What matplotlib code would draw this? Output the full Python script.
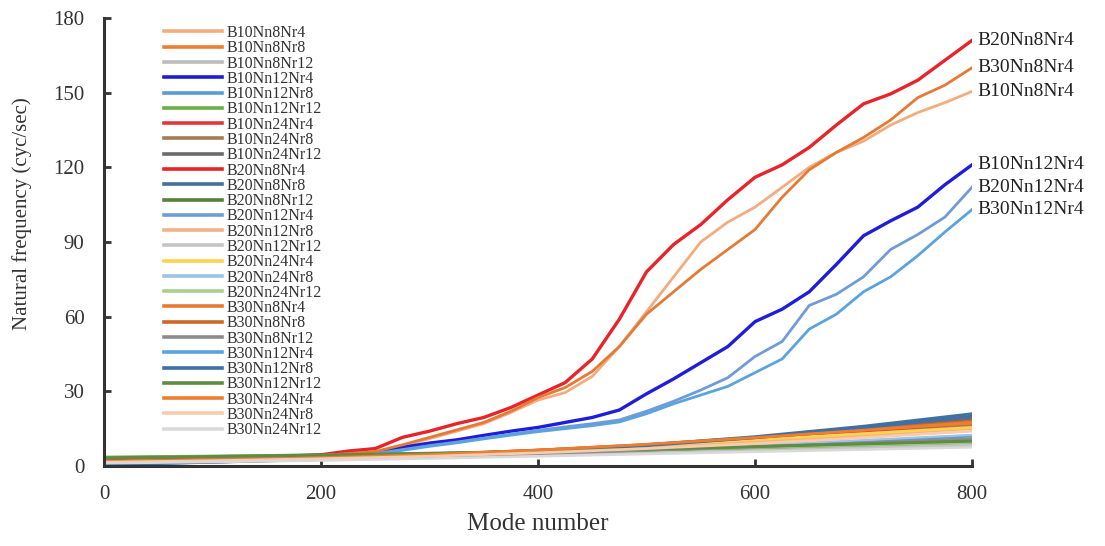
import matplotlib
matplotlib.use("Agg")
import matplotlib.pyplot as plt

plt.rcParams['font.family'] = ['Liberation Serif', 'DejaVu Serif']

# ---------------- data ----------------
modes_high = [0, 50, 100, 150, 200, 225, 250, 275, 300, 325, 350, 375, 400, 425,
              450, 475, 500, 525, 550, 575, 600, 625, 650, 675, 700, 725, 750, 775, 800]
modes_low = [0, 100, 200, 300, 400, 500, 600, 700, 800]

B20Nn8Nr4 = [2.0, 2.5, 3.0, 3.6, 4.5, 6.0, 7.0, 11.5, 14.0, 17.0, 19.5, 23.5, 28.5, 33.5,
             43, 59, 78, 89, 97, 107, 116, 121, 128, 137, 145.5, 149.5, 155, 163, 171]
B30Nn8Nr4 = [1.8, 2.3, 2.8, 3.4, 4.2, 5.0, 5.8, 8.5, 11.5, 14.5, 17.5, 22, 27.5, 31.5,
             38, 48, 61, 70, 79, 87, 95, 108, 119, 126, 132, 139, 148, 153, 160]
B10Nn8Nr4 = [1.6, 2.1, 2.6, 3.2, 4.0, 4.8, 5.5, 8.0, 11.0, 14.0, 17.0, 21.5, 26.5, 29.5,
             36, 48, 62, 76, 90, 98, 104, 112, 120, 126, 130.5, 137, 142, 146, 150.5]
B10Nn12Nr4 = [1.5, 2.0, 2.6, 3.3, 4.2, 4.8, 5.5, 7.5, 9.2, 10.5, 12.3, 14.0, 15.5, 17.5,
              19.5, 22.5, 29, 35, 41.5, 48, 58, 63, 70, 81, 92.5, 98.5, 104, 113, 121]
B20Nn12Nr4 = [1.3, 1.8, 2.4, 3.0, 3.8, 4.4, 5.0, 6.6, 8.2, 9.6, 11.2, 12.8, 14.3, 15.7,
              17.0, 18.5, 22, 26, 30.5, 35.5, 44, 50, 64.5, 69, 76, 87, 93, 100, 112]
B30Nn12Nr4 = [1.2, 1.7, 2.3, 2.9, 3.6, 4.2, 4.8, 6.3, 7.9, 9.3, 10.9, 12.4, 13.8, 15.0,
              16.2, 17.7, 21, 25, 28.5, 32, 37.5, 43, 55, 61, 70, 76, 84.5, 94, 103]

B10Nn8Nr8 = [1.5, 2.2, 3.0, 4.2, 6.0, 8.3, 11.0, 14.0, 17.0]
B10Nn8Nr12 = [1.2, 1.8, 2.5, 3.3, 4.2, 5.0, 6.0, 7.0, 8.0]
B10Nn12Nr8 = [1.0, 1.8, 2.6, 3.6, 4.8, 6.3, 8.0, 10.0, 12.0]
B10Nn12Nr12 = [3.6, 4.0, 4.5, 5.0, 5.6, 6.3, 7.1, 8.0, 9.0]
B10Nn24Nr4 = [1.8, 2.5, 3.4, 4.6, 6.4, 8.4, 10.8, 13.3, 16.0]
B10Nn24Nr8 = [1.5, 2.2, 3.0, 4.2, 5.8, 7.8, 10.2, 13.0, 16.0]
B10Nn24Nr12 = [1.0, 1.8, 2.8, 4.0, 5.8, 8.0, 11.0, 14.8, 19.0]
B20Nn8Nr8 = [0.5, 1.5, 2.6, 4.0, 5.9, 8.5, 11.8, 16.0, 21.0]
B20Nn8Nr12 = [3.2, 3.7, 4.3, 5.0, 5.8, 6.7, 7.7, 8.8, 10.0]
B20Nn12Nr8 = [1.5, 2.2, 3.0, 4.0, 5.5, 7.4, 9.7, 12.3, 15.0]
B20Nn12Nr12 = [1.2, 1.8, 2.5, 3.4, 4.4, 5.3, 6.3, 7.4, 8.5]
B20Nn24Nr4 = [1.8, 2.4, 3.2, 4.4, 6.1, 8.2, 10.6, 13.0, 15.5]
B20Nn24Nr8 = [1.0, 1.8, 2.6, 3.6, 5.0, 6.6, 8.4, 10.4, 12.5]
B20Nn24Nr12 = [3.4, 3.9, 4.4, 5.0, 5.7, 6.5, 7.4, 8.4, 9.5]
B30Nn8Nr8 = [1.6, 2.3, 3.2, 4.5, 6.3, 8.6, 11.4, 14.6, 18.0]
B30Nn8Nr12 = [1.2, 1.9, 2.8, 3.8, 5.0, 6.3, 7.7, 9.3, 11.0]
B30Nn12Nr8 = [0.6, 1.6, 2.7, 4.0, 5.8, 8.2, 11.4, 15.4, 20.0]
B30Nn12Nr12 = [3.3, 3.8, 4.4, 5.1, 5.9, 6.8, 7.8, 8.9, 10.0]
B30Nn24Nr4 = [1.7, 2.4, 3.3, 4.6, 6.4, 8.7, 11.4, 14.4, 17.5]
B30Nn24Nr8 = [1.5, 2.1, 2.9, 3.9, 5.3, 7.0, 9.0, 11.4, 14.0]
B30Nn24Nr12 = [1.1, 1.6, 2.2, 3.0, 3.9, 4.8, 5.7, 6.6, 7.5]

labels = ["B10Nn8Nr4", "B10Nn8Nr8", "B10Nn8Nr12", "B10Nn12Nr4", "B10Nn12Nr8", "B10Nn12Nr12",
          "B10Nn24Nr4", "B10Nn24Nr8", "B10Nn24Nr12", "B20Nn8Nr4", "B20Nn8Nr8", "B20Nn8Nr12",
          "B20Nn12Nr4", "B20Nn12Nr8", "B20Nn12Nr12", "B20Nn24Nr4", "B20Nn24Nr8", "B20Nn24Nr12",
          "B30Nn8Nr4", "B30Nn8Nr8", "B30Nn8Nr12", "B30Nn12Nr4", "B30Nn12Nr8", "B30Nn12Nr12",
          "B30Nn24Nr4", "B30Nn24Nr8", "B30Nn24Nr12"]
series = [B10Nn8Nr4, B10Nn8Nr8, B10Nn8Nr12, B10Nn12Nr4, B10Nn12Nr8, B10Nn12Nr12,
          B10Nn24Nr4, B10Nn24Nr8, B10Nn24Nr12, B20Nn8Nr4, B20Nn8Nr8, B20Nn8Nr12,
          B20Nn12Nr4, B20Nn12Nr8, B20Nn12Nr12, B20Nn24Nr4, B20Nn24Nr8, B20Nn24Nr12,
          B30Nn8Nr4, B30Nn8Nr8, B30Nn8Nr12, B30Nn12Nr4, B30Nn12Nr8, B30Nn12Nr12,
          B30Nn24Nr4, B30Nn24Nr8, B30Nn24Nr12]
end_labels = ["B20Nn8Nr4", "B30Nn8Nr4", "B10Nn8Nr4", "B10Nn12Nr4", "B20Nn12Nr4", "B30Nn12Nr4"]

# ---------------- style ----------------
colors = ["#F2AC80", "#ED7D31", "#BDBDBD", "#1E1ED8", "#5B9BD5", "#70AD47",
          "#E0383C", "#A67C52", "#6B6B6B", "#E8232A", "#41719C", "#548235",
          "#6F9BD8", "#F4B183", "#C4C4C4", "#FFD34D", "#9DC3E6", "#A9D18E",
          "#E57A35", "#C8692C", "#8C8C8C", "#5BA3DD", "#3D6FA8", "#5E8C44",
          "#ED7D31", "#F8CBAD", "#D9D9D9"]
widths = [2.0, 2.0, 1.4, 2.4, 2.0, 2.0, 2.0, 2.0, 2.0, 2.4, 2.0, 2.0,
          2.0, 2.0, 1.6, 2.0, 1.6, 1.6, 2.0, 2.2, 2.0, 2.0, 2.2, 2.2,
          2.0, 2.0, 1.8]

fig = plt.figure(figsize=(11.05, 5.46), dpi=100)
ax = fig.add_axes([104 / 1105, 80 / 546, 868 / 1105, 448 / 546])

for lab, vals, col, lw in zip(labels, series, colors, widths):
    xs = modes_high if len(vals) == len(modes_high) else modes_low
    ax.plot(xs, vals, color=col, lw=lw, label=lab, solid_joinstyle='round')

for lab in end_labels:
    vals = series[labels.index(lab)]
    ax.annotate(lab, xy=(modes_high[-1], vals[-1]), xytext=(4, 0),
                textcoords='offset points', va='center', ha='left',
                fontsize=14, color='#222222', annotation_clip=False)

ax.set_xlim(0, 800)
ax.set_ylim(0, 180)
ax.set_xticks([0, 200, 400, 600, 800])
ax.set_yticks([0, 30, 60, 90, 120, 150, 180])
for s in ['top', 'right']:
    ax.spines[s].set_visible(False)
for s in ['left', 'bottom']:
    ax.spines[s].set_color('#333333')
    ax.spines[s].set_linewidth(2.2)
ax.tick_params(direction='in', length=5, width=2, color='#333333',
               labelsize=15, labelcolor='#333333', pad=14)
ax.set_xlabel("Mode number", fontsize=18, color='#333333', labelpad=6)
ax.set_ylabel("Natural frequency (cyc/sec)", fontsize=15, color='#333333')
ax.yaxis.set_label_coords(-0.083, 0.5625)

leg = ax.legend(loc='upper left', bbox_to_anchor=(60 / 868, 1 - 7 / 448),
                frameon=False, fontsize=11.5, handlelength=3.6, handletextpad=0.3,
                labelspacing=-0.045, borderaxespad=0, borderpad=0)
for h in leg.get_lines():
    h.set_linewidth(2.6)
for t in leg.get_texts():
    t.set_color('#333333')

fig.savefig("out.png", dpi=100)
